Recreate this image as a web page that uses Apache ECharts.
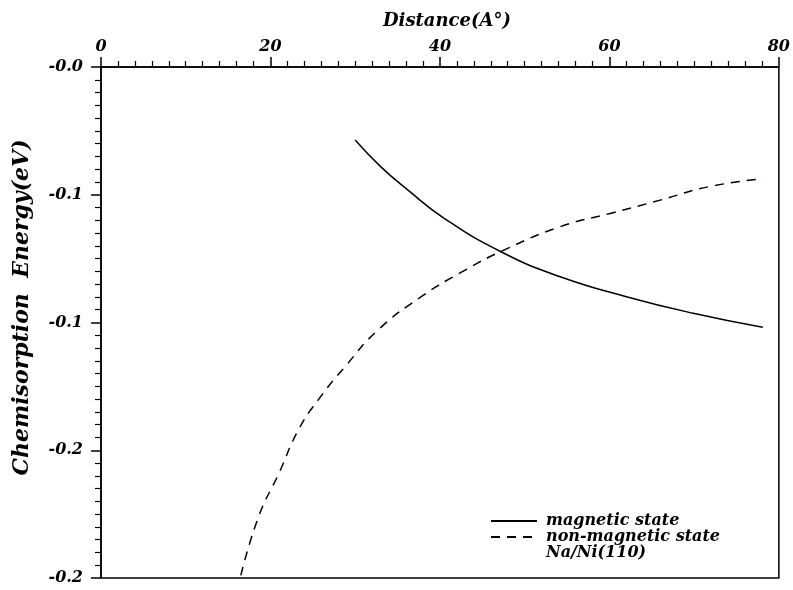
<!DOCTYPE html>
<html><head><meta charset="utf-8">
<script src="https://cdn.jsdelivr.net/npm/echarts@6/dist/echarts.min.js"></script>
<style>html,body{margin:0;padding:0;background:#fff}#c{width:793px;height:590px}</style>
</head><body><div id="c"></div>
<script>
const magX = [30.0, 33.0, 36.2, 40.5, 47.2, 54.2, 62.0, 69.9, 78.1];
const magY = [-0.0286, -0.0390, -0.0481, -0.0592, -0.0723, -0.0821, -0.0899, -0.0964, -0.1019];
const nonX = [16.5, 18.6, 21.0, 23.3, 25.7, 28.8, 32.7, 37.8, 42.7, 47.6, 54.2, 60.1, 66.0, 71.8, 78.1];
const nonY = [-0.1990, -0.1760, -0.1590, -0.1420, -0.1300, -0.1173, -0.1029, -0.0899, -0.0800, -0.0716, -0.0625, -0.0573, -0.0521, -0.0468, -0.0438];
const xTicks = [0, 20, 40, 60, 80];
const yTickLabels = ['-0.0', '-0.1', '-0.1', '-0.2', '-0.2'];
const seriesNames = ['magnetic state', 'non-magnetic state', 'Na/Ni(110)'];

const FONT = 'DejaVu Serif';
const chart = echarts.init(document.getElementById('c'), null, {renderer: 'canvas'});
const zip = (xs, ys) => xs.map((x, i) => [x, ys[i]]);
chart.setOption({
  animation: false,
  backgroundColor: '#fff',
  title: {
    text: 'Distance(A°)', left: 442, top: 7, textAlign: 'center',
    textStyle: {fontFamily: FONT, fontStyle: 'italic', fontWeight: 'bold', fontSize: 18, color: '#000'}
  },
  grid: {left: 101, right: 10, top: 67, bottom: 12, show: true, borderColor: '#000', borderWidth: 1.5},
  legend: {
    data: seriesNames.map(n => ({name: n})), orient: 'vertical', left: 490, top: 513,
    itemWidth: 46, itemHeight: 10, itemGap: 0, align: 'left', padding: 0,
    itemStyle: {opacity: 0},
    textStyle: {fontFamily: FONT, fontStyle: 'italic', fontWeight: 'bold', fontSize: 16, color: '#000', padding: [0, 0, 0, 4]},
    selectedMode: false
  },
  xAxis: {
    type: 'value', position: 'top', min: 0, max: 80, interval: 20,
    axisLine: {lineStyle: {color: '#000', width: 1.5}},
    axisTick: {show: true, inside: false, length: 10, lineStyle: {color: '#000', width: 1.5}},
    minorTick: {show: true, splitNumber: 10, length: 6, lineStyle: {color: '#000', width: 1.2}},
    splitLine: {show: false},
    axisLabel: {fontFamily: FONT, fontStyle: 'italic', fontWeight: 'bold', fontSize: 16, color: '#000', margin: 12,
      formatter: v => xTicks.includes(v) ? String(v) : ''}
  },
  yAxis: {
    type: 'value', min: -0.2, max: 0, interval: 0.05,
    name: 'Chemisorption  Energy(eV)', nameLocation: 'middle', nameGap: 68, nameRotate: 90,
    nameTextStyle: {fontFamily: FONT, fontStyle: 'italic', fontWeight: 'bold', fontSize: 22, color: '#000', padding: [0, 0, 0, 30]},
    axisLine: {lineStyle: {color: '#000', width: 1.5}},
    axisTick: {show: true, inside: false, length: 10, lineStyle: {color: '#000', width: 1.5}},
    minorTick: {show: true, splitNumber: 10, length: 6, lineStyle: {color: '#000', width: 1.2}},
    splitLine: {show: false},
    axisLabel: {fontFamily: FONT, fontStyle: 'italic', fontWeight: 'bold', fontSize: 16, color: '#000', margin: 18,
      formatter: v => yTickLabels[Math.round(-v / 0.05)] || ''}
  },
  series: [
    {name: seriesNames[0], type: 'line', data: zip(magX, magY), smooth: true, symbol: 'none',
      lineStyle: {color: '#000', width: 1.5, type: 'solid'}, itemStyle: {color: '#000'}},
    {name: seriesNames[1], type: 'line', data: zip(nonX, nonY), smooth: true, symbol: 'none',
      lineStyle: {color: '#000', width: 1.5, type: [9, 7]}, itemStyle: {color: '#000'}},
    {name: seriesNames[2], type: 'line', data: [], symbol: 'none',
      lineStyle: {color: '#000', width: 0, opacity: 0}, itemStyle: {color: '#000', opacity: 0}}
  ]
});
</script></body></html>
